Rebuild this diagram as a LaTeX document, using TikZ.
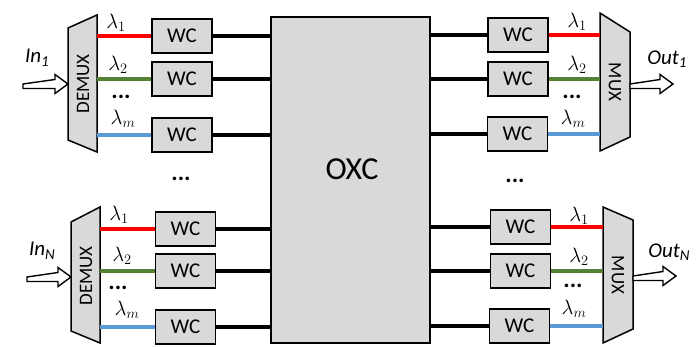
\documentclass[tikz,border=0pt]{standalone}
\usepackage{fontspec}
\setmainfont{Carlito}
\definecolor{boxgray}{HTML}{D9D9D9}
\definecolor{lred}{HTML}{FF0000}
\definecolor{lgreen}{HTML}{548235}
\definecolor{lblue}{HTML}{5B9BD5}
\tikzset{
  wc/.style={draw=black, line width=1.5pt, fill=boxgray, minimum width=60pt, minimum height=34pt, inner sep=0pt, font=\fontsize{21}{21}\selectfont},
  oxcbox/.style={draw=black, line width=1.5pt, fill=boxgray, minimum width=159pt, minimum height=326pt, inner sep=0pt},
  trap/.style={draw=black, line width=1.5pt, fill=boxgray, line join=miter},
  wl/.style={line width=3.5pt},
  blk/.style={line width=3.5pt, black},
  lam/.style={inner sep=0pt, font=\fontsize{22}{22}\selectfont},
  dots/.style={inner sep=0pt, font=\fontsize{24}{24}\selectfont\bfseries},
  muxt/.style={inner sep=0pt, font=\fontsize{19}{19}\selectfont},
  io/.style={inner sep=0pt, font=\fontsize{21}{21}\selectfont\itshape},
  blockarrow/.style={draw=black, line width=1.4pt, fill=white, line join=miter}
}
\newcommand{\subn}[1]{\raisebox{-0.35ex}{\fontsize{15}{15}\selectfont #1}}
\begin{document}
\begin{tikzpicture}[x=1pt,y=-1pt]
\useasboundingbox (0,0) rectangle (697,347);

% OXC
\node[oxcbox] (oxc) at (350.5,180) {};
\node[inner sep=0pt, font=\fontsize{32}{32}\selectfont] (oxct) at (352,169) {OXC};

% ---------- top-left ----------
\path[trap] (68,28) -- (97,15) -- (97,152) -- (68,140) -- cycle;
\coordinate (dm1) at (97,83);
\node[muxt, rotate=90] (dm1t) at (83,84) {DEMUX};
\node[wc] (a1) at (182,36) {WC};
\node[wc] (a2) at (182,79) {WC};
\node[wc] (a3) at (182,135) {WC};
\draw[wl, lred] (a1.west -| dm1) -- (a1.west);
\draw[wl, lgreen] (a2.west -| dm1) -- (a2.west);
\draw[wl, lblue] (a3.west -| dm1) -- (a3.west);
\draw[blk] (a1.east) -- (a1.east -| oxc.west);
\draw[blk] (a2.east) -- (a2.east -| oxc.west);
\draw[blk] (a3.east) -- (a3.east -| oxc.west);
\node[lam] (la1) at (116,23) {$\lambda_1$};
\node[lam] (la2) at (118,65) {$\lambda_2$};
\node[dots] (da) at (121,97) {...};
\node[lam] (la3) at (123,119) {$\lambda_m$};
\node[io] (in1) at (37,58) {In\subn{1}};
\coordinate (ar1) at (23,84);
\path[blockarrow] (ar1) -- ++(32,-4.5) -- ++(0,-5) -- ++(13,9.5) -- ++(-13,9.5) -- ++(0,-5) -- ++(-32,0) -- cycle;

% ---------- bottom-left ----------
\path[trap] (71,222) -- (100,207) -- (100,343) -- (71,331) -- cycle;
\coordinate (dm2) at (100,277);
\node[muxt, rotate=90] (dm2t) at (86,276) {DEMUX};
\node[wc] (b1) at (185.5,229) {WC};
\node[wc] (b2) at (185.5,271) {WC};
\node[wc] (b3) at (185.5,327) {WC};
\draw[wl, lred] (b1.west -| dm2) -- (b1.west);
\draw[wl, lgreen] (b2.west -| dm2) -- (b2.west);
\draw[wl, lblue] (b3.west -| dm2) -- (b3.west);
\draw[blk] (b1.east) -- (b1.east -| oxc.west);
\draw[blk] (b2.east) -- (b2.east -| oxc.west);
\draw[blk] (b3.east) -- (b3.east -| oxc.west);
\node[lam] (lb1) at (119,215) {$\lambda_1$};
\node[lam] (lb2) at (122,256) {$\lambda_2$};
\node[dots] (db) at (118,288) {...};
\node[lam] (lb3) at (127,310) {$\lambda_m$};
\node[io] (inN) at (42,251) {In\subn{N}};
\coordinate (ar2) at (27,277);
\path[blockarrow] (ar2) -- ++(31,-4.5) -- ++(0,-5) -- ++(13,9.5) -- ++(-13,9.5) -- ++(0,-5) -- ++(-31,0) -- cycle;

% middle dots
\node[dots] (dl) at (181,179) {...};
\node[dots] (dr) at (515,181) {...};

% ---------- top-right ----------
\path[trap] (600,13) -- (630,32) -- (630,137) -- (600,151) -- cycle;
\coordinate (mx1) at (600,83);
\node[muxt, rotate=-90] (mx1t) at (615,82) {MUX};
\node[wc] (c1) at (518,35) {WC};
\node[wc] (c2) at (518,79) {WC};
\node[wc] (c3) at (517.5,134) {WC};
\draw[wl, lred] (c1.east) -- (c1.east -| mx1);
\draw[wl, lgreen] (c2.east) -- (c2.east -| mx1);
\draw[wl, lblue] (c3.east) -- (c3.east -| mx1);
\draw[blk] (c1.west -| oxc.east) -- (c1.west);
\draw[blk] (c2.west -| oxc.east) -- (c2.west);
\draw[blk] (c3.west -| oxc.east) -- (c3.west);
\node[lam] (lc1) at (577,22) {$\lambda_1$};
\node[lam] (lc2) at (577,65) {$\lambda_2$};
\node[dots] (dc) at (572,97) {...};
\node[lam] (lc3) at (573,119) {$\lambda_m$};
\node[io] (out1) at (667,59) {Out\subn{1}};
\coordinate (ar3) at (630,84);
\path[blockarrow] (ar3) -- ++(30,-4.5) -- ++(0,-5) -- ++(13,9.5) -- ++(-13,9.5) -- ++(0,-5) -- ++(-30,0) -- cycle;

% ---------- bottom-right ----------
\path[trap] (603,207) -- (633,220) -- (633,329) -- (603,343) -- cycle;
\coordinate (mx2) at (603,276);
\node[muxt, rotate=-90] (mx2t) at (618,275) {MUX};
\node[wc] (e1) at (520.5,227) {WC};
\node[wc] (e2) at (520.5,271) {WC};
\node[wc] (e3) at (519.5,326) {WC};
\draw[wl, lred] (e1.east) -- (e1.east -| mx2);
\draw[wl, lgreen] (e2.east) -- (e2.east -| mx2);
\draw[wl, lblue] (e3.east) -- (e3.east -| mx2);
\draw[blk] (e1.west -| oxc.east) -- (e1.west);
\draw[blk] (e2.west -| oxc.east) -- (e2.west);
\draw[blk] (e3.west -| oxc.east) -- (e3.west);
\node[lam] (le1) at (579,216) {$\lambda_1$};
\node[lam] (le2) at (579,257) {$\lambda_2$};
\node[dots] (de) at (573,286) {...};
\node[lam] (le3) at (574,309) {$\lambda_m$};
\node[io] (outN) at (669,252) {Out\subn{N}};
\coordinate (ar4) at (633,276);
\path[blockarrow] (ar4) -- ++(30,-4.5) -- ++(0,-5) -- ++(13,9.5) -- ++(-13,9.5) -- ++(0,-5) -- ++(-30,0) -- cycle;
\end{tikzpicture}
\end{document}
